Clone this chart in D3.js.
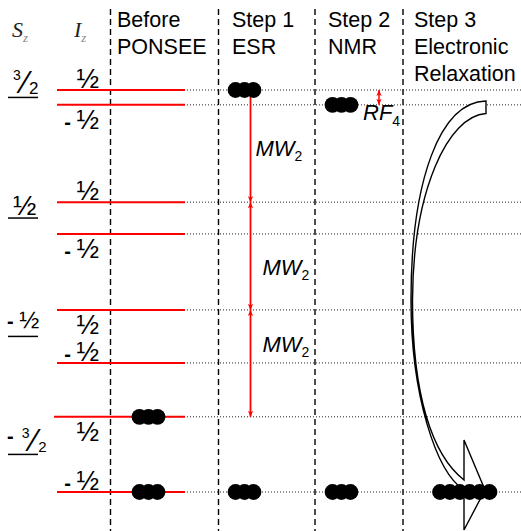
<!DOCTYPE html>
<html><head><meta charset="utf-8">
<script src="https://cdn.jsdelivr.net/npm/d3@7"></script>
<style>body{margin:0;background:#fff} svg{display:block}</style>
</head><body><script>
// ---------- data ----------
const headerLines = [["Before","PONSEE"],["Step 1","ESR"],["Step 2","NMR"],["Step 3","Electronic","Relaxation"]];
const levelEnergy = [100, 96.3, 72.1, 64.2, 45.3, 32.1, 18.7, 0];
const levelSz = ["3/2","3/2","1/2","1/2","-1/2","-1/2","-3/2","-3/2"];
const levelIz = ["1/2","-1/2","1/2","-1/2","1/2","-1/2","1/2","-1/2"];
const szValues = ["3/2","1/2","-1/2","-3/2"];
const popBefore = [0,0,0,0,0,0,3,3];
const popStep1  = [3,0,0,0,0,0,0,3];
const popStep2  = [0,3,0,0,0,0,0,3];
const popStep3  = [0,0,0,0,0,0,0,6];
const mwTransitions = [[0,2],[2,4],[4,6]];
const rfTransitions = [[0,1]];

// ---------- layout ----------
const W = 521, H = 531;
const FONT = "'Liberation Sans', Arial, sans-serif";
const SERIF = "'Liberation Serif', 'Times New Roman', serif";
const svg = d3.select("body").append("svg").attr("width", W).attr("height", H);

const y = d3.scaleLinear().domain([0, 100]).range([492, 90]);
const colNames = headerLines.map(d => d.join(" "));
const colX = d3.scaleOrdinal().domain(colNames).range([110.5, 218.5, 315, 403]);
const pops = [popBefore, popStep1, popStep2, popStep3];
const dotStart = [29, 17, 17.5, 37];
const dotGap = [9, 9, 9, 9.9];
const R = 7.9;
const HALF = "\u00BD";

// defs
const defs = svg.append("defs");
defs.append("marker").attr("id","ah").attr("viewBox","0 0 8 8").attr("refX",8).attr("refY",4)
  .attr("markerWidth",6).attr("markerHeight",6).attr("markerUnits","userSpaceOnUse")
  .attr("orient","auto-start-reverse")
  .append("path").attr("d","M0,0.5 L8,4 L0,7.5 L2,4 Z").attr("fill","#f00");

// vertical dashed separators
svg.append("g").selectAll("line").data(colNames).join("line")
  .attr("x1", d => colX(d)).attr("x2", d => colX(d)).attr("y1", 9).attr("y2", H)
  .attr("stroke", "#000").attr("stroke-width", 1.4).attr("stroke-dasharray", "6,4");

// dotted level lines
svg.append("g").selectAll("line").data(levelEnergy).join("line")
  .attr("x1", 163).attr("x2", W).attr("y1", d => y(d)).attr("y2", d => y(d))
  .attr("stroke", "#222").attr("stroke-width", 1).attr("stroke-dasharray", "1,2");

// red level lines
svg.append("g").selectAll("line").data(levelEnergy).join("line")
  .attr("x1", (d,i) => i === 6 ? 54 : 57).attr("x2", 185).attr("y1", d => y(d)).attr("y2", d => y(d))
  .attr("stroke", "#f00").attr("stroke-width", 2);

// big curved relaxation arrow (annotation anchored on Step 3 column and the level scale)
(function(){
  const x0 = colX(colNames[3]), yT = y(levelEnergy[0]);
  const P = (dx, dy) => `${x0+dx},${yT+dy}`;
  const d = `M${P(83,11)} C${P(37,12)} ${P(8,90)} ${P(8,210)} C${P(8,305)} ${P(33,382)} ${P(61,400)}`
    + ` L${P(61,440)} L${P(82,400)} L${P(61,350)} L${P(61,390)}`
    + ` C${P(29,365)} ${P(9.5,305)} ${P(9.5,210)} C${P(10,100)} ${P(45,26)} ${P(83,23.5)} Z`;
  svg.append("path").attr("d", d).attr("fill","#fff").attr("stroke","#000").attr("stroke-width",1.4)
    .attr("stroke-linejoin","miter");
})();

// MW transitions (Step 1)
const mwX = colX(colNames[1]) + 32;
svg.append("g").selectAll("line").data(mwTransitions).join("line")
  .attr("x1", mwX).attr("x2", mwX)
  .attr("y1", d => y(levelEnergy[d[0]])).attr("y2", d => y(levelEnergy[d[1]]))
  .attr("stroke","#f00").attr("stroke-width",1.8)
  .attr("marker-start","url(#ah)").attr("marker-end","url(#ah)");
const mwLabelOff = [[5,10],[12,19],[12,-11]];
mwTransitions.forEach((t, i) => {
  const mid = (y(levelEnergy[t[0]]) + y(levelEnergy[t[1]])) / 2;
  const tx = svg.append("text").attr("x", mwX + mwLabelOff[i][0]).attr("y", mid + mwLabelOff[i][1])
    .attr("font-family", FONT).attr("font-size", 22).attr("fill","#000");
  tx.append("tspan").attr("font-style","italic").text("MW");
  tx.append("tspan").attr("font-size", 14).attr("dy", 5).text("2");
});

// RF transition (Step 2)
const rfX = colX(colNames[2]) + 64;
svg.append("g").selectAll("line").data(rfTransitions).join("line")
  .attr("x1", rfX).attr("x2", rfX)
  .attr("y1", d => y(levelEnergy[d[0]])).attr("y2", d => y(levelEnergy[d[1]]))
  .attr("stroke","#f00").attr("stroke-width",1.5)
  .attr("marker-start","url(#ah)").attr("marker-end","url(#ah)");
rfTransitions.forEach(t => {
  const tx = svg.append("text").attr("x", rfX - 16).attr("y", y(levelEnergy[t[1]]) + 15)
    .attr("font-family", FONT).attr("font-size", 22).attr("fill","#000");
  tx.append("tspan").attr("font-style","italic").text("RF");
  tx.append("tspan").attr("font-size", 14).attr("dy", 6).text("4");
});

// populations
pops.forEach((pop, c) => {
  const items = [];
  pop.forEach((n, li) => { for (let k = 0; k < n; k++) items.push({li, k}); });
  svg.append("g").selectAll("circle").data(items).join("circle")
    .attr("cx", d => colX(colNames[c]) + dotStart[c] + d.k * dotGap[c])
    .attr("cy", d => y(levelEnergy[d.li])).attr("r", R).attr("fill", "#000");
});

// headers
headerLines.forEach((lines, c) => {
  svg.append("g").selectAll("text").data(lines).join("text")
    .attr("x", colX(colNames[c]) + (c === 0 ? 6.5 : c === 1 ? 13.5 : c === 2 ? 13 : 11))
    .attr("y", (d,i) => 27 + i * 27)
    .attr("font-family", FONT).attr("font-size", 21.5).attr("fill", "#000").text(d => d);
});

// Sz / Iz axis titles
[["S", 12], ["I", 74]].forEach(([s, xx]) => {
  const t = svg.append("text").attr("x", xx).attr("y", 37).attr("font-family", SERIF)
    .attr("font-style","italic").attr("font-size", 22).attr("fill", "#222");
  t.append("tspan").text(s);
  t.append("tspan").attr("font-size", 13).attr("dy", 5).attr("fill","#888").text("z");
});

// Iz labels
const izSide = ["above","below","above","below","below","above","below","above"];
svg.append("g").selectAll("text").data(levelIz).join("text")
  .attr("x", 99).attr("y", (d,i) => y(levelEnergy[i]) + (izSide[i] === "above" ? -2 : 24))
  .attr("text-anchor","end").attr("font-family", FONT).attr("fill","#000")
  .each(function(d){
    const t = d3.select(this);
    if (d.startsWith("-")) t.append("tspan").attr("font-size", 20).attr("font-weight", "bold").text("- ");
    t.append("tspan").attr("font-size", 27).text(HALF);
  });

// Sz labels (underlined fractions centred between their two levels)
szValues.forEach(v => {
  const idx = levelSz.map((s,i) => s === v ? i : -1).filter(i => i >= 0);
  const mid = (y(levelEnergy[idx[0]]) + y(levelEnergy[idx[1]])) / 2;
  svg.append("line").attr("x1", 8).attr("x2", 38).attr("y1", mid).attr("y2", mid)
    .attr("stroke", "#000").attr("stroke-width", 1.5);
  const t = svg.append("text").attr("font-family", FONT).attr("fill", "#000");
  if (v === "3/2") {
    t.attr("x", 13).attr("y", mid - 17.5);
    t.append("tspan").attr("font-size", 14).text("3");
    t.append("tspan").attr("font-size", 31).attr("dx", 2).attr("dy", 13.5).text("\u2044");
    t.append("tspan").attr("font-size", 17).attr("dx", 1).attr("dy", 1).text("2");
  } else if (v === "-3/2") {
    t.attr("x", 7).attr("y", mid - 11);
    t.append("tspan").attr("font-size", 20).attr("font-weight","bold").text("-");
    t.append("tspan").attr("font-size", 14).attr("dx", 8).attr("dy", -5.5).text("3");
    t.append("tspan").attr("font-size", 31).attr("dx", 2).attr("dy", 13).text("\u2044");
    t.append("tspan").attr("font-size", 15).attr("dx", 1.5).attr("dy", 1.5).text("2");
  } else if (v === "1/2") {
    t.attr("x", 13).attr("y", mid - 3);
    t.append("tspan").attr("font-size", 28).text(HALF);
  } else {
    t.attr("x", 7).attr("y", mid - 8.5);
    t.append("tspan").attr("font-size", 20).attr("font-weight","bold").text("- ");
    t.append("tspan").attr("font-size", 24).text(HALF);
  }
});
</script></body></html>
